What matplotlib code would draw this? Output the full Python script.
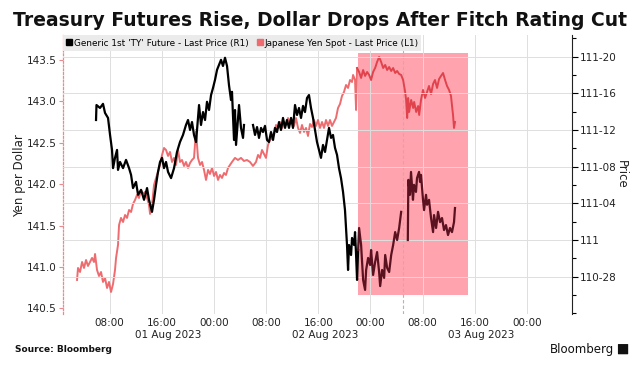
import numpy as np
import pandas as pd
import matplotlib
matplotlib.use('Agg')
import matplotlib.pyplot as plt
import matplotlib.dates as mdates
import matplotlib.transforms as mtransforms
from matplotlib.lines import Line2D
from matplotlib.patches import FancyBboxPatch
from matplotlib.ticker import FuncFormatter, MultipleLocator, FixedLocator

start = pd.Timestamp('2023-08-01 00:00')

# Generic 1st 'TY' future (R1): hours after 01 Aug 2023 00:00, price
ty_hours = [5.93, 6.00, 6.54, 7.00, 7.31, 7.77, 8.08, 8.38, 8.54, 8.84, 9.15, 9.30, 9.61,
            10.07, 10.53, 10.99, 11.30, 11.60, 12.06, 12.37, 12.83, 13.29, 13.75, 14.05,
            14.51, 14.82, 15.13, 15.43, 15.74, 16.05, 16.35, 16.66, 16.97, 17.43, 17.89,
            18.34, 18.80, 19.26, 19.72, 20.03, 20.34, 20.64, 20.95, 21.26, 21.56, 21.72,
            22.02, 22.33, 22.64, 22.94, 23.25, 23.56, 23.86, 24.17, 24.48, 24.78, 25.09,
            25.39, 25.70, 26.01, 26.31, 26.62, 26.77, 27.08, 27.23, 27.39, 27.69, 27.85,
            28.15, 28.46, 28.61, 29.30,
            29.99, 30.30, 30.61, 30.91, 31.22, 31.52, 31.83, 32.14, 32.44, 32.75, 33.06,
            33.36, 33.67, 33.98, 34.28, 34.59, 34.90, 35.20, 35.51, 35.82, 36.12, 36.43,
            36.74, 37.04, 37.35, 37.66, 37.96, 38.27, 38.57, 38.88, 39.19, 39.49, 39.80,
            40.11, 40.41, 40.72, 41.03, 41.33, 41.64, 41.95, 42.25, 42.56, 42.87, 43.17,
            43.48, 43.79, 44.09, 44.25, 44.40, 44.56, 44.71, 45.02, 45.17, 45.48, 45.63,
            45.79, 45.94, 46.10, 46.25, 46.56, 46.71, 46.87, 47.17, 47.33, 47.63, 47.94,
            48.09, 48.40, 48.71, 49.01, 49.32, 49.48, 49.78, 50.09, 50.25, 50.55, 50.86,
            51.17, 51.47, 51.78, 52.08, 52.39, 52.70, 53.20,
            53.72, 53.80, 54.05, 54.21, 54.51, 54.67, 54.97, 55.13, 55.44, 55.59, 55.74,
            56.05, 56.21, 56.51, 56.67, 56.97, 57.28, 57.59, 57.74, 58.05, 58.35, 58.66,
            58.96, 59.27, 59.57, 59.88, 60.18, 60.49, 60.80, 60.95]
ty_price = [111.409, 111.460, 111.450, 111.464, 111.433, 111.416, 111.358, 111.307, 111.245,
            111.280, 111.307, 111.239, 111.266, 111.245, 111.273, 111.245, 111.222, 111.177,
            111.198, 111.154, 111.171, 111.137, 111.177, 111.137, 111.096, 111.137, 111.188,
            111.232, 111.266, 111.280, 111.245, 111.266, 111.232, 111.211, 111.245, 111.300,
            111.334, 111.358, 111.392, 111.409, 111.375, 111.402, 111.358, 111.334, 111.416,
            111.460, 111.392, 111.436, 111.409, 111.471, 111.443, 111.494, 111.518, 111.546,
            111.580, 111.597, 111.614, 111.593, 111.621, 111.593, 111.528, 111.477, 111.505,
            111.341, 111.443, 111.324, 111.416, 111.460, 111.382, 111.348, 111.392, np.nan,
            111.392, 111.358, 111.385, 111.348, 111.382, 111.368, 111.389, 111.341, 111.334,
            111.368, 111.341, 111.382, 111.368, 111.402, 111.375, 111.416, 111.382, 111.409,
            111.382, 111.416, 111.382, 111.460, 111.426, 111.450, 111.416, 111.457, 111.436,
            111.484, 111.494, 111.450, 111.416, 111.375, 111.334, 111.307, 111.280, 111.324,
            111.300, 111.341, 111.382, 111.348, 111.358, 111.314, 111.290, 111.245, 111.211,
            111.164, 111.102, 111.041, 110.983, 110.898, 110.983, 110.949, 111.007, 110.983,
            111.027, 110.949, 110.864, 110.966, 111.041, 110.983, 110.925, 110.864, 110.830,
            110.898, 110.939, 110.915, 110.966, 110.881, 110.925, 110.959, 110.891, 110.843,
            110.898, 110.871, 110.949, 110.905, 110.891, 110.949, 110.983, 111.027, 111.000,
            111.041, 111.096, np.nan,
            111.000, 111.205, 111.154, 111.232, 111.137, 111.188, 111.164, 111.211, 111.232,
            111.198, 111.222, 111.137, 111.102, 111.154, 111.120, 111.137, 111.075, 111.027,
            111.085, 111.041, 111.096, 111.061, 111.075, 111.034, 111.051, 111.017, 111.041,
            111.027, 111.061, 111.109]

# Japanese yen spot (L1): hours after 01 Aug 2023 00:00, yen per dollar
jpy_hours = [3.02, 3.17, 3.48, 3.79, 4.09, 4.40, 4.70, 5.01, 5.32, 5.62, 5.78, 6.08, 6.39,
             6.70, 7.00, 7.31, 7.62, 7.92, 8.23, 8.54, 8.84, 9.00, 9.30, 9.46, 9.76, 10.07,
             10.38, 10.68, 10.99, 11.30, 11.60, 11.91, 12.21, 12.52, 12.83, 13.13, 13.44,
             13.75, 14.05, 14.21, 14.51, 14.82, 15.13, 15.43, 15.74, 16.05, 16.35, 16.66,
             16.97, 17.27, 17.58, 17.89, 18.19, 18.50, 18.80, 19.11, 19.42, 19.72, 20.03,
             20.34, 20.64, 20.95, 21.26, 21.41, 21.56, 21.87, 22.18, 22.48, 22.79, 23.10,
             23.40, 23.71, 24.02, 24.32, 24.63, 24.93, 25.24, 25.55, 25.85, 26.16, 26.47,
             26.77, 27.23, 27.69, 28.15, 28.61, 29.07, 29.53, 29.99, 30.45, 30.76, 31.07,
             31.37, 31.68, 31.98, 32.29, 32.60, 32.90, 33.21, 33.52, 33.82, 34.13, 34.44,
             34.74, 35.05, 35.36, 35.66, 35.97, 36.28, 36.58, 36.89, 37.20, 37.50, 37.81,
             38.12, 38.42, 38.73, 39.03, 39.34, 39.65, 39.95, 40.26, 40.57, 40.87, 41.18,
             41.49, 41.79, 42.10, 42.41, 42.71, 43.02, 43.33, 43.63, 43.94, 44.25, 44.56,
             44.86, 45.17, 45.33, 45.63, 45.79, 45.94, 46.25, 46.56, 46.87, 47.17, 47.48,
             47.79, 48.09, 48.40, 48.71, 49.01, 49.32, 49.63, 49.94, 50.25, 50.55, 50.86,
             51.17, 51.47, 51.78, 52.08, 52.39, 52.70, 53.00, 53.31, 53.46, 53.62, 53.77,
             53.92, 54.23, 54.54, 54.69, 55.00, 55.30, 55.46, 55.74, 56.05, 56.36, 56.67,
             56.97, 57.28, 57.59, 57.89, 58.20, 58.51, 58.81, 59.12, 59.43, 59.73, 60.04,
             60.34, 60.50, 60.65, 60.80, 60.95]
jpy_rate = [140.843, 140.988, 140.939, 141.060, 140.988, 141.084, 141.012, 141.060, 141.109,
            141.060, 141.157, 140.964, 140.891, 140.939, 140.819, 140.867, 140.746, 140.819,
            140.698, 140.795, 140.964, 141.109, 141.266, 141.507, 141.592, 141.543, 141.628,
            141.592, 141.688, 141.664, 141.761, 141.809, 141.870, 141.833, 141.930, 141.882,
            141.906, 141.833, 141.749, 141.640, 141.749, 141.990, 142.075, 142.147, 142.232,
            142.353, 142.437, 142.413, 142.341, 142.389, 142.268, 142.317, 142.232, 142.413,
            142.268, 142.292, 142.220, 142.268, 142.196, 142.256, 142.292, 142.317, 142.655,
            142.473, 142.317, 142.232, 142.268, 142.172, 142.051, 142.172, 142.123, 142.196,
            142.099, 142.147, 142.051, 142.111, 142.075, 142.135, 142.111, 142.196, 142.232,
            142.268, 142.317, 142.292, 142.317, 142.280, 142.292, 142.268, 142.220, 142.268,
            142.353, 142.317, 142.413, 142.365, 142.317, 142.473, 142.534, 142.558, 142.594,
            142.715, 142.679, 142.751, 142.679, 142.751, 142.715, 142.799, 142.727, 142.775,
            142.703, 142.799, 142.679, 142.619, 142.715, 142.631, 142.679, 142.582, 142.727,
            142.691, 142.775, 142.703, 142.775, 142.679, 142.751, 142.679, 142.775, 142.703,
            142.775, 142.703, 142.751, 142.799, 142.920, 142.969, 143.065, 143.114, 143.198,
            143.162, 143.258, 143.234, 143.319, 143.258, 142.896, 143.403, 143.355, 143.283,
            143.379, 143.307, 143.355, 143.319, 143.258, 143.355, 143.403, 143.476, 143.536,
            143.476, 143.403, 143.440, 143.379, 143.415, 143.367, 143.403, 143.343, 143.367,
            143.331, 143.319, 143.258, 143.114, 143.017, 142.799, 143.041, 142.872, 143.017,
            142.920, 142.993, 142.872, 142.944, 142.836, 143.017, 143.138, 143.041, 143.114,
            143.186, 143.089, 143.210, 143.258, 143.162, 143.270, 143.307, 143.343, 143.258,
            143.186, 143.138, 143.065, 142.944, 142.836, 142.679, 142.751]

# highlighted window after the rating cut and a marker line
shade_hours = [46.13, 62.94]
shade_yen = [140.66, 143.58]
marker_hour = 53.0

date_labels = ['01 Aug 2023', '02 Aug 2023', '03 Aug 2023']
date_label_hours = [17, 41, 65]

yen_ticks = [140.5, 141.0, 141.5, 142.0, 142.5, 143.0, 143.5]
price_ticks = [110.875, 111.0, 111.125, 111.25, 111.375, 111.5, 111.625]


def to_time(hours):
    return start + pd.to_timedelta(np.asarray(hours, dtype=float), unit='h')


def fmt_32nds(v, pos):
    whole = int(np.floor(v + 1e-9))
    n = int(round((v - whole) * 32))
    if n == 32:
        whole, n = whole + 1, 0
    return str(whole) if n == 0 else '%d-%02d' % (whole, n)


plt.rcParams['font.family'] = 'DejaVu Sans'
fig = plt.figure(figsize=(6.41, 3.66), dpi=100)
ax = fig.add_axes([0.0983, 0.1421, 0.7936, 0.761])
ax2 = ax.twinx()

black = '#000000'
black_in = '#5a1220'
red = '#ee6c6f'
red_in = '#e1434d'

t_ty = to_time(ty_hours)
t_jpy = to_time(jpy_hours)
i_ty = int(np.searchsorted(ty_hours, shade_hours[0]))
i_jpy = int(np.searchsorted(jpy_hours, shade_hours[0]))

ts = to_time(shade_hours)
ax.fill_between(ts, shade_yen[0], shade_yen[1], color='#ffa3ae', lw=0, zorder=0.2)
ax.axvline(to_time([marker_hour])[0], color='#d9a3aa', lw=0.8, ls=(0, (3, 2)), zorder=0.4)

ax.plot(t_jpy[:i_jpy], jpy_rate[:i_jpy], color=red, lw=1.4, zorder=2)
ax.plot(t_jpy[i_jpy - 1:], jpy_rate[i_jpy - 1:], color=red_in, lw=1.4, zorder=2)
ax2.plot(t_ty[:i_ty], ty_price[:i_ty], color=black, lw=1.6, zorder=2)
ax2.plot(t_ty[i_ty - 1:], ty_price[i_ty - 1:], color=black_in, lw=1.6, zorder=2)

# axes ranges
ax.set_xlim(to_time([0.87])[0], to_time([78.84])[0])
ax.set_ylim(140.432, 143.796)
ax2.set_ylim(110.748, 111.697)

# x axis
ax.xaxis.set_major_locator(mdates.HourLocator(byhour=[0, 8, 16]))
ax.xaxis.set_major_formatter(mdates.DateFormatter('%H:%M'))
ax.tick_params(axis='x', length=0, pad=3, labelsize=7.5, labelcolor='#222222')
trans = mtransforms.blended_transform_factory(ax.transData, ax.transAxes)
for lab, h in zip(date_labels, date_label_hours):
    ax.text(to_time([h])[0], -0.076, lab, transform=trans, ha='center', va='center',
            fontsize=7.5, color='#222222')

# left axis
ax.yaxis.set_major_locator(FixedLocator(yen_ticks))
ax.yaxis.set_major_formatter(FuncFormatter(lambda v, p: '%.1f' % v))
ax.tick_params(axis='y', length=3, width=0.8, color='#e98a90', labelsize=7.5,
               labelcolor='#222222', pad=1.5)
ax.set_ylabel('Yen per Dollar', fontsize=8.5, color='#222222')
ax.yaxis.set_label_coords(-0.073, 0.497)

# right axis in 32nds
ax2.yaxis.set_major_locator(FixedLocator(price_ticks))
ax2.yaxis.set_minor_locator(MultipleLocator(0.0625))
ax2.yaxis.set_major_formatter(FuncFormatter(fmt_32nds))
ax2.tick_params(axis='y', which='major', length=4, width=0.8, labelsize=7.5,
                labelcolor='#222222', pad=1.5)
ax2.tick_params(axis='y', which='minor', length=3, width=0.8)
ax2.set_ylabel('Price', rotation=270, fontsize=8.5, color='#222222')
ax2.yaxis.set_label_coords(1.111, 0.5)

for a in (ax, ax2):
    a.spines['top'].set_visible(False)
    a.spines['bottom'].set_visible(False)
ax.spines['right'].set_visible(False)
ax2.spines['left'].set_visible(False)
ax.spines['left'].set_color('#e98a90')
ax.spines['left'].set_linestyle((0, (1.5, 1.5)))
ax.spines['left'].set_linewidth(0.9)
ax2.spines['right'].set_color('#222222')
ax2.spines['right'].set_linewidth(0.8)

ax.grid(axis='x', color='#dedede', lw=0.7)
ax2.grid(axis='y', color='#dedede', lw=0.7)
ax.set_axisbelow(True)

handles = [Line2D([], [], marker='s', ls='', color='black', markersize=4.8),
           Line2D([], [], marker='s', ls='', color=red, markersize=4.8)]
leg = ax2.legend(handles, ["Generic 1st 'TY' Future - Last Price (R1)",
                           'Japanese Yen Spot - Last Price (L1)'],
                 loc='upper left', bbox_to_anchor=(0, 1), borderaxespad=0, ncol=2,
                 fontsize=6.4, frameon=True, fancybox=False, handlelength=0.7,
                 handletextpad=0.15, columnspacing=0.9, borderpad=0.35)
leg.get_frame().set_facecolor('#ebebeb')
leg.get_frame().set_edgecolor('none')
leg.get_frame().set_alpha(1)

fig.text(0.02, 0.945, 'Treasury Futures Rise, Dollar Drops After Fitch Rating Cut',
         fontsize=13.5, fontweight='bold', color='#111111', va='center', ha='left')
fig.text(0.023, 0.046, 'Source: Bloomberg', fontsize=6.5, fontweight='bold',
         color='#111111', va='center', ha='left')
fig.text(0.958, 0.046, 'Bloomberg', fontsize=8.5, color='#111111', va='center', ha='right')
fig.patches.append(FancyBboxPatch((0.965, 0.033), 0.014, 0.026, boxstyle='round,pad=0.001',
                                  transform=fig.transFigure, facecolor='#111111',
                                  edgecolor='none'))

fig.savefig('out.png', dpi=100)
